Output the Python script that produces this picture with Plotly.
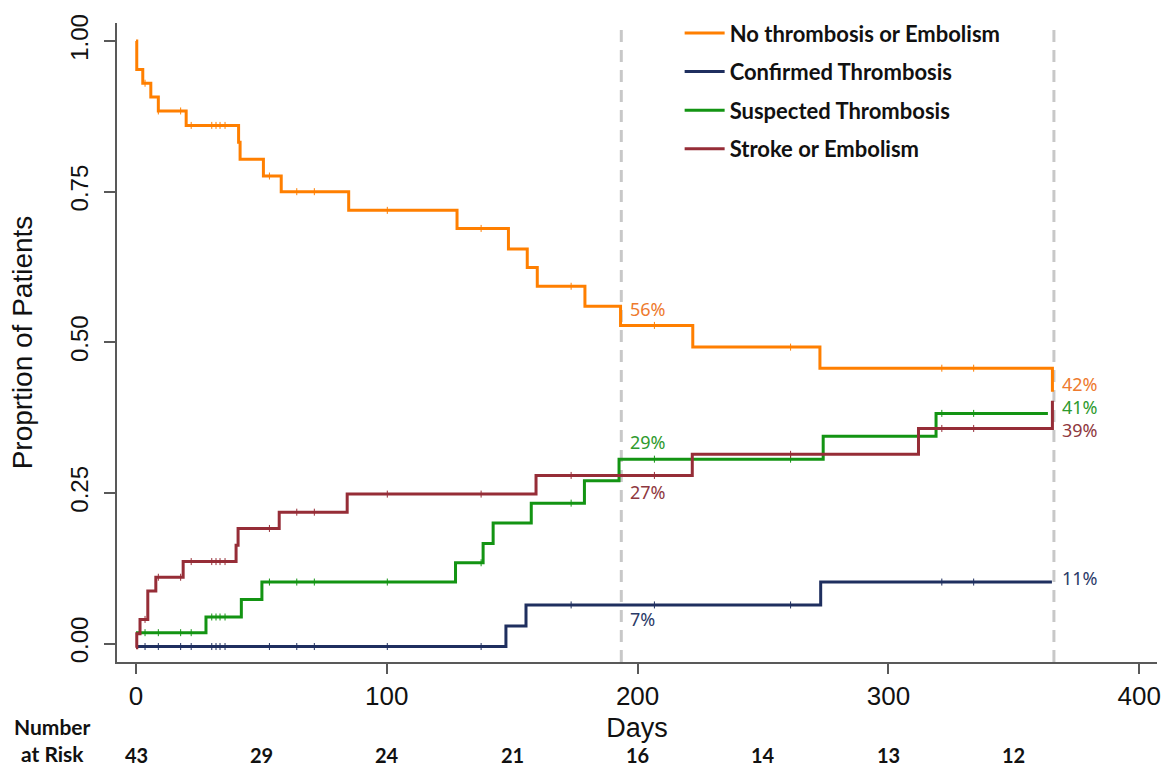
import plotly.graph_objects as go

# ---------------- data ----------------
series_names = ["No thrombosis or Embolism", "Confirmed Thrombosis",
                "Suspected Thrombosis", "Stroke or Embolism"]

orange_days = [0, 0.3, 2.7, 5.9, 8.9, 20, 40.9, 41.5, 50.8, 57.9, 84.8, 128,
               148.5, 156, 160, 179, 193.2, 222, 272.7, 365.4]
orange_vals = [1.0, 0.953, 0.930, 0.907, 0.884, 0.860, 0.832, 0.804, 0.776,
               0.750, 0.719, 0.689, 0.655, 0.624, 0.593, 0.560, 0.528, 0.492,
               0.457, 0.418]

blue_days = [0, 147.5, 155.5, 273, 365.2]
blue_vals = [-0.005, 0.029, 0.064, 0.102, 0.102]

green_days = [0, 27.9, 42, 50.2, 127.4, 138.4, 142.4, 157.6, 178.8, 192.6,
              274, 319, 363.6]
green_vals = [0.018, 0.044, 0.073, 0.102, 0.134, 0.166, 0.200, 0.233, 0.270,
              0.306, 0.344, 0.382, 0.382]

brown_days = [0, 0.3, 1.6, 4.7, 7.9, 18.8, 39.9, 40.7, 57.1, 84.2, 159.5,
              221.8, 312, 365.4]
brown_vals = [-0.007, 0.016, 0.040, 0.087, 0.110, 0.136, 0.163, 0.191, 0.218,
              0.248, 0.279, 0.314, 0.357, 0.403]

censor_days = [3.6, 8.9, 17.8, 22, 30.2, 31.9, 33.5, 35.5, 53.2, 64.1, 71.1,
               100.2, 137.6, 173.5, 206.7, 261, 321.3, 334]

landmark_days = [193.5, 366]
labels_6m = ["56%", "7%", "29%", "27%"]
labels_12m = ["42%", "11%", "41%", "39%"]

risk_days = [0, 50, 100, 150, 200, 250, 300, 350]
risk_counts = [43, 29, 24, 21, 16, 14, 13, 12]

x_ticks = [0, 100, 200, 300, 400]
y_ticks = [0.0, 0.25, 0.50, 0.75, 1.00]
y_ticklabels = ["0.00", "0.25", "0.50", "0.75", "1.00"]

# ---------------- styles ----------------
line_colors = ["#FF7F00", "#1F2F5F", "#139413", "#962D37"]
label_colors = ["#EE7A2E", "#2B3A67", "#2E9A2E", "#8E3840"]
all_days = [orange_days, blue_days, green_days, brown_days]
all_vals = [orange_vals, blue_vals, green_vals, brown_vals]


def step_value(days, vals, t):
    v = vals[0]
    for d, y in zip(days, vals):
        if d <= t:
            v = y
    return v


fig = go.Figure()
for name, d, v, c in zip(series_names, all_days, all_vals, line_colors):
    fig.add_trace(go.Scatter(
        x=d, y=v, mode="lines", name=name, legendgroup=name,
        line=dict(color=c, width=3, shape="hv"),
    ))
# censoring marks
for name, d, v, c in zip(series_names, all_days, all_vals, line_colors):
    cx = [t for t in censor_days if t <= d[-1]]
    cy = [step_value(d, v, t) for t in cx]
    fig.add_trace(go.Scatter(
        x=cx, y=cy, mode="markers", showlegend=False, legendgroup=name,
        marker=dict(symbol="line-ns", size=5, line=dict(color=c, width=1)),
        hoverinfo="skip",
    ))

# landmark dashed lines
for xd in landmark_days:
    fig.add_shape(type="line", xref="x", yref="paper", x0=xd, x1=xd, y0=0, y1=1,
                  line=dict(color="#C8C8C8", width=3, dash="12px,8px"), layer="below")

# percentage labels
pct_font = "Noto Sans, Open Sans, sans-serif"
y6 = [0.5546, 0.041, 0.3344, 0.2513]
y12 = [0.4316, 0.109, 0.393, 0.355]
for txt, yy, c in zip(labels_6m, y6, label_colors):
    fig.add_annotation(x=196.6, y=yy, text=txt, showarrow=False, xanchor="left",
                       yanchor="middle", borderpad=0,
                       font=dict(family=pct_font, size=18, color=c))
for txt, yy, c in zip(labels_12m, y12, label_colors):
    fig.add_annotation(x=369.0, y=yy, text=txt, showarrow=False, xanchor="left",
                       yanchor="middle", borderpad=0,
                       font=dict(family=pct_font, size=18, color=c))

# number at risk
risk_font = "Lato, Open Sans, sans-serif"
for d, n in zip(risk_days, risk_counts):
    fig.add_annotation(x=d, xref="x", y=-0.1458, yref="paper", text=f"<b>{n}</b>",
                       showarrow=False, xanchor="center", yanchor="middle",
                       font=dict(family=risk_font, size=20, color="#111111"))
fig.add_annotation(x=-0.0617, xref="paper", y=-0.1015, yref="paper", text="<b>Number</b>",
                   showarrow=False, xanchor="center", yanchor="middle",
                   font=dict(family=risk_font, size=21, color="#111111"))
fig.add_annotation(x=-0.0617, xref="paper", y=-0.1433, yref="paper", text="<b>at Risk</b>",
                   showarrow=False, xanchor="center", yanchor="middle",
                   font=dict(family=risk_font, size=21, color="#111111"))

axis_col = "#595959"
fig.update_layout(
    width=1175, height=769,
    margin=dict(l=117, r=18, t=15, b=107),
    paper_bgcolor="white", plot_bgcolor="white",
    font=dict(family="Liberation Sans, Arial, sans-serif", color="#111111"),
    showlegend=True,
    legend=dict(x=0.541, y=1.017, xanchor="left", yanchor="top",
                bgcolor="rgba(0,0,0,0)", tracegroupgap=7,
                font=dict(family=risk_font, size=22, color="#111111", weight="bold"),
                itemwidth=40),
    xaxis=dict(range=[-7.58, 407.1], tickvals=x_ticks, showgrid=False, zeroline=False,
               showline=True, linecolor=axis_col, linewidth=2, ticks="outside",
               ticklen=10, tickwidth=1.5, tickcolor=axis_col,
               tickfont=dict(size=26, family="Liberation Sans Narrow, Liberation Sans, Arial"),
               ticklabelstandoff=0,
               title=dict(text="Days", font=dict(size=27), standoff=8)),
    yaxis=dict(range=[-0.0307, 1.030], tickvals=y_ticks, ticktext=y_ticklabels,
               showgrid=False, zeroline=False, showline=True, linecolor=axis_col,
               linewidth=2, ticks="outside", ticklen=11, tickwidth=1.5,
               tickcolor=axis_col, tickangle=-90, tickfont=dict(size=24),
               ticklabelstandoff=6,
               title=dict(text="Proprtion of Patients", font=dict(size=28), standoff=26)),
)

fig.write_html("out.html", config={"displayModeBar": False},
               post_script="document.body.style.margin='0';document.body.style.padding='0';")
